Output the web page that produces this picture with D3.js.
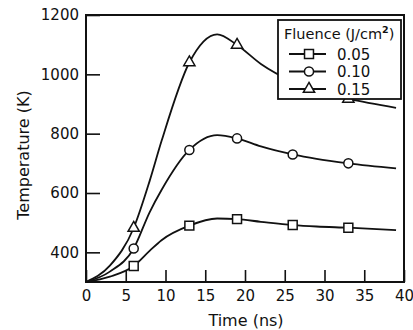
<!DOCTYPE html>
<html>
<head>
<meta charset="utf-8">
<script src="https://cdn.jsdelivr.net/npm/d3@7"></script>
<style>
  body { margin: 0; background: #fff; }
  text { font-family: "DejaVu Sans", sans-serif; fill: #111; }
</style>
</head>
<body>
<div id="chart"></div>
<script>
// values (time in ns, temperature in K)
const timeNs = [0, 3, 6, 8, 9.5, 13, 16.5, 19, 22, 26, 29, 33, 39];
const temp005 = [300, 318, 354, 405, 441, 490, 514, 512, 503, 492, 487, 483, 475];
const temp010 = [300, 335, 413, 535, 610, 745, 795, 784, 757, 730, 715, 700, 683];
const temp015 = [300, 355, 482, 640, 775, 1040, 1135, 1099, 1035, 975, 942, 917, 887];
const markerTimes = [6, 13, 19, 26, 33];
const fluenceLabels = ["0.05", "0.10", "0.15"];
const xTicks = [0, 5, 10, 15, 20, 25, 30, 35, 40];
const yTicks = [400, 600, 800, 1000, 1200];

const width = 413, height = 330;
const series = [
    {label: fluenceLabels[0], values: temp005, shape: "square"},
    {label: fluenceLabels[1], values: temp010, shape: "circle"},
    {label: fluenceLabels[2], values: temp015, shape: "triangle"}
];

var svg = d3.select("#chart").append("svg")
    .attr("width", width)
    .attr("height", height);

var x = d3.scaleLinear().domain([0, 40]).range([86, 404]);
var y = d3.scaleLinear().domain([300, 1200]).range([282, 15]);

// axes, ticks pointing inwards
var xAxis = svg.append("g")
    .attr("transform", "translate(0," + y(300) + ")")
    .call(d3.axisBottom(x).tickValues(xTicks).tickFormat(d3.format("d"))
        .tickSizeInner(-12).tickSizeOuter(0).tickPadding(8));
var yAxis = svg.append("g")
    .attr("transform", "translate(" + x(0) + ",0)")
    .call(d3.axisLeft(y).tickValues(yTicks).tickFormat(d3.format("d"))
        .tickSizeInner(-14).tickSizeOuter(0).tickPadding(7));

[xAxis, yAxis].forEach(function(g) {
    g.select(".domain").remove();
    g.selectAll("line").attr("stroke", "#111").attr("stroke-width", 1.6);
    g.selectAll("text").style("font-size", "15px").attr("fill", "#111");
});

// frame
svg.append("rect")
    .attr("x", x(0)).attr("y", y(1200))
    .attr("width", x(40) - x(0)).attr("height", y(300) - y(1200))
    .attr("fill", "none").attr("stroke", "#111").attr("stroke-width", 2);

var line = d3.line()
    .curve(d3.curveMonotoneX)
    .x(function(d) { return x(d.t); })
    .y(function(d) { return y(d.v); });

var symbols = {
    square: d3.symbol().type(d3.symbolSquare).size(80),
    circle: d3.symbol().type(d3.symbolCircle).size(65),
    triangle: d3.symbol().type(d3.symbolTriangle).size(55)
};

series.forEach(function(s) {
    var pts = timeNs.map(function(t, i) { return {t: t, v: s.values[i]}; });
    svg.append("path")
        .datum(pts)
        .attr("d", line)
        .attr("fill", "none")
        .attr("stroke", "#111")
        .attr("stroke-width", 1.8);
    svg.selectAll(null)
        .data(pts.filter(function(d) { return markerTimes.indexOf(d.t) >= 0; }))
        .enter().append("path")
        .attr("d", symbols[s.shape])
        .attr("transform", function(d) { return "translate(" + x(d.t) + "," + y(d.v) + ")"; })
        .attr("fill", "#fff")
        .attr("stroke", "#111")
        .attr("stroke-width", 1.5);
});

// legend
var legend = svg.append("g").attr("transform", "translate(278,20)");
legend.append("rect")
    .attr("width", 123).attr("height", 79)
    .attr("fill", "#fff").attr("stroke", "#111").attr("stroke-width", 1.8);
var title = legend.append("text").attr("x", 6).attr("y", 19).style("font-size", "14.5px");
title.append("tspan").text("Fluence (J/cm");
title.append("tspan").attr("dy", -6).style("font-size", "9.5px").style("font-weight", "bold").text("2");
title.append("tspan").attr("dy", 6).text(")");

series.forEach(function(s, i) {
    var yy = 34 + i * 17.5;
    legend.append("line")
        .attr("x1", 11).attr("x2", 48).attr("y1", yy).attr("y2", yy)
        .attr("stroke", "#111").attr("stroke-width", 1.8);
    legend.append("path")
        .attr("d", symbols[s.shape])
        .attr("transform", "translate(31," + yy + ")")
        .attr("fill", "#fff").attr("stroke", "#111").attr("stroke-width", 1.5);
    legend.append("text")
        .attr("x", 59).attr("y", yy + 5.5)
        .style("font-size", "15px")
        .text(s.label);
});

// axis titles
svg.append("text")
    .attr("x", 246).attr("y", 326)
    .attr("text-anchor", "middle")
    .style("font-size", "16px")
    .text("Time (ns)");
svg.append("text")
    .attr("transform", "translate(29,155) rotate(-90)")
    .attr("text-anchor", "middle")
    .style("font-size", "16px")
    .text("Temperature (K)");
</script>
</body>
</html>
